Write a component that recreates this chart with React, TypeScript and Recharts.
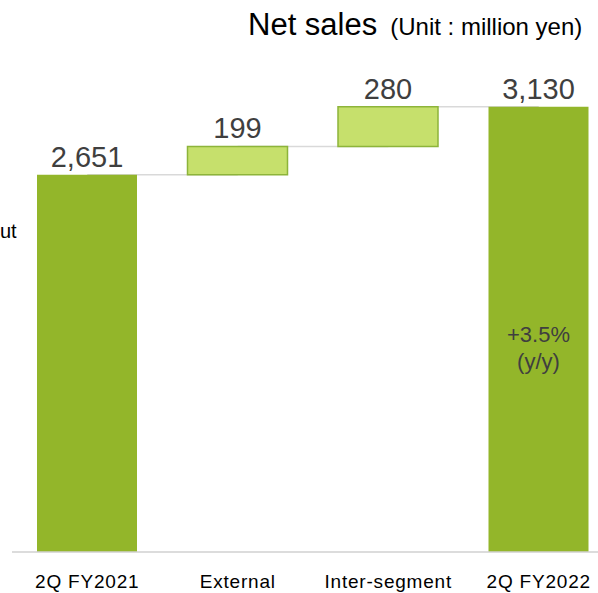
import React from 'react';
import { BarChart, Bar, XAxis, YAxis, Cell, LabelList, ReferenceLine } from 'recharts';

const categories = ['2Q FY2021', 'External', 'Inter-segment', '2Q FY2022'];
const bases = [0, 2651, 2850, 0];
const values = [2651, 199, 280, 3130];
const kinds = ['total', 'delta', 'delta', 'total'];
const notes = ['', '', '', '+3.5%'];
const notes2 = ['', '', '', '(y/y)'];

const data = categories.map((name, i) => ({ name, base: bases[i], value: values[i], kind: kinds[i] }));

const FONT = '"Liberation Sans", Arial, Helvetica, sans-serif';
const DARK = '#93B62A';
const LIGHT = '#C6E06C';
const LIGHT_STROKE = '#8DB43A';
const CONNECT = '#D9D9D9';

const connectors = data.slice(0, -1).map((d, i) => ({
  from: d.name,
  to: data[i + 1].name,
  y: d.base + d.value,
}));

const NoteLabel = (props: any) => {
  const { x, y, width, height, index } = props;
  if (!notes[index]) return null;
  const cx = x + width / 2;
  const cy = y + height / 2;
  return (
    <g>
      <text x={cx} y={cy + 13} textAnchor="middle" fontSize={22} fill="#3F3F3F" fontFamily={FONT}>{notes[index]}</text>
      <text x={cx} y={cy + 40} textAnchor="middle" fontSize={22} fill="#3F3F3F" fontFamily={FONT}>{notes2[index]}</text>
    </g>
  );
};

export default function App() {
  return (
    <div style={{ position: 'absolute', left: 0, top: 0, width: 598, height: 593, overflow: 'hidden', background: '#fff', fontFamily: FONT }}>
      <div style={{ position: 'absolute', left: 248, top: 7, fontSize: 31, color: '#000', whiteSpace: 'nowrap', lineHeight: '36px' }}>
        Net sales<span style={{ fontSize: 24, marginLeft: 13 }}>(Unit : million yen)</span>
      </div>
      <div style={{ position: 'absolute', left: 0, top: 219, fontSize: 20, color: '#000', lineHeight: '24px', whiteSpace: 'nowrap' }}>
        ut
      </div>
      <BarChart width={620} height={593} data={data} margin={{ top: 54, right: 6, left: 12, bottom: 0 }} barSize={100}>
        <XAxis
          dataKey="name"
          height={41}
          interval={0}
          tickLine={false}
          axisLine={{ stroke: '#D0D0D0', strokeWidth: 1.5 }}
          tick={{ fontSize: 19, fill: '#000', fontFamily: FONT, letterSpacing: 0.8 }}
          tickMargin={17}
        />
        <YAxis hide domain={[0, 3500]} />
        {connectors.map((c, i) => (
          <ReferenceLine
            key={i}
            segment={[{ x: c.from, y: c.y }, { x: c.to, y: c.y }]}
            stroke={CONNECT}
            strokeWidth={1.5}
            ifOverflow="visible"
            zIndex={100}
          />
        ))}
        <Bar dataKey="base" stackId="a" fill="transparent" isAnimationActive={false} />
        <Bar dataKey="value" stackId="a" isAnimationActive={false}>
          {data.map((d, i) => (
            <Cell
              key={i}
              fill={d.kind === 'total' ? DARK : LIGHT}
              stroke={d.kind === 'total' ? 'none' : LIGHT_STROKE}
              strokeWidth={d.kind === 'total' ? 0 : 1.5}
            />
          ))}
          <LabelList
            dataKey="value"
            position="top"
            offset={8}
            formatter={(v: any) => Number(v).toLocaleString('en-US')}
            style={{ fontSize: 29, fill: '#3F3F3F', fontFamily: FONT }}
          />
          <LabelList dataKey="value" content={NoteLabel} />
        </Bar>
      </BarChart>
    </div>
  );
}
